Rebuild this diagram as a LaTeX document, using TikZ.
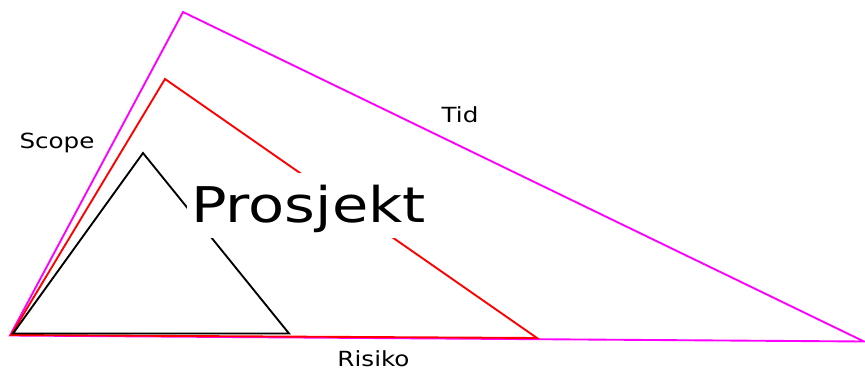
\documentclass[tikz,border=0pt]{standalone}
\usepackage{fontspec}
\setmainfont{DejaVu Sans}
\usetikzlibrary{calc}

\definecolor{tidcol}{RGB}{255,0,255}
\definecolor{scopecol}{RGB}{255,0,0}

\begin{document}
\begin{tikzpicture}[x=0.03cm,y=-0.03cm,line join=miter,
    side/.style={line width=1.6pt},
    lbl/.style={inner sep=0pt,anchor=base,font=\fontsize{17.8}{20}\selectfont}]
  \useasboundingbox (0,0) rectangle (865,371);
  % corners of the three triangles
  \coordinate (m1) at (10,335.5);
  \coordinate (m2) at (183,12);
  \coordinate (m3) at (864,341.5);
  \coordinate (r1) at (11,335);
  \coordinate (r2) at (165,79);
  \coordinate (r3) at (537,338);
  \coordinate (b1) at (13,333.5);
  \coordinate (b2) at (143,153);
  \coordinate (b3) at (289,333.5);
  \draw[side,tidcol] (m1) -- (m2) -- (m3) -- cycle;
  \draw[side,scopecol] (r1) -- (r2) -- (r3) -- cycle;
  \draw[side,black] (b1) -- (b2) -- (b3) -- cycle;
  % labels
  \node[lbl] (scope) at (57,148.3) {\scalebox{1.18}[1]{Scope}};
  \node[lbl] (tid) at (460,122.7) {\scalebox{1.18}[1]{Tid}};
  \node[lbl] (risiko) at (373.5,366.7) {\scalebox{1.18}[1]{Risiko}};
  \node[fill=white,inner sep=0pt,anchor=base,minimum width=7.3cm,
        text height=1.49cm,text depth=0.46cm,
        font=\fontsize{42}{48}\selectfont] (prosjekt) at (308.5,222.7)
    {\scalebox{1.2}[1]{Prosjekt}};
\end{tikzpicture}
\end{document}
